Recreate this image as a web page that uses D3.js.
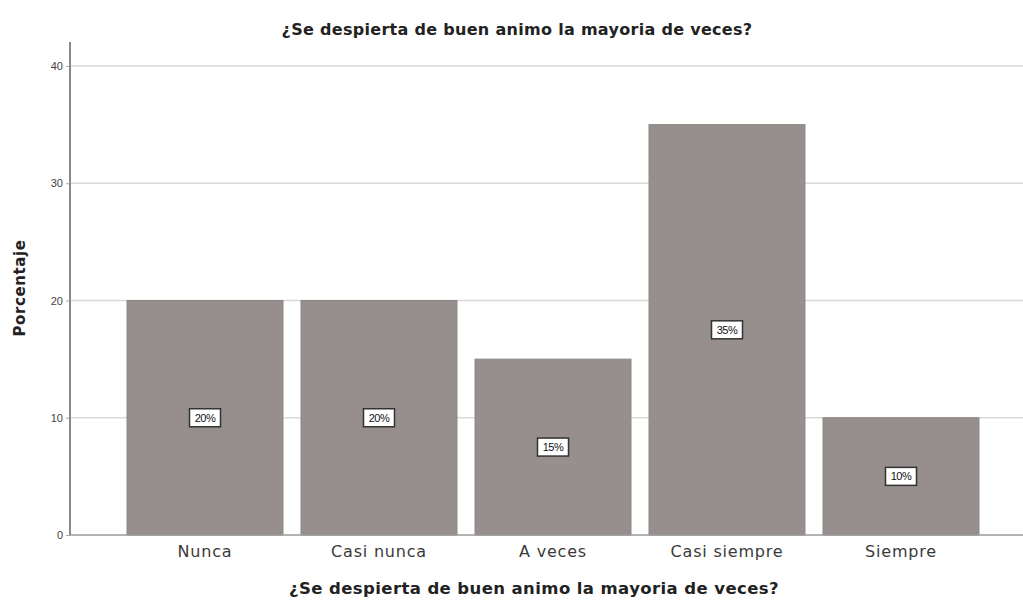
<!DOCTYPE html>
<html>
<head>
<meta charset="utf-8">
<script src="https://cdn.jsdelivr.net/npm/d3@7"></script>
<style>
  html, body { margin: 0; padding: 0; background: #fff; }
  svg { display: block; }
</style>
</head>
<body>
<svg id="chart" width="1023" height="605"></svg>
<script>
// Survey answers and their share of respondents (%)
const categories = ["Nunca", "Casi nunca", "A veces", "Casi siempre", "Siempre"];
const percentages = [20, 20, 15, 35, 10];
const yTicks = [0, 10, 20, 30, 40];
const chartTitle = "¿Se despierta de buen animo la mayoria de veces?";
const xTitle = "¿Se despierta de buen animo la mayoria de veces?";
const yTitle = "Porcentaje";

const svg = d3.select("#chart");
const plotLeft = 70, plotRight = 1023, plotTop = 42, plotBottom = 535;
const sans = "'DejaVu Sans', Verdana, sans-serif";
const arial = "Arial, 'Liberation Sans', sans-serif";

const y = d3.scaleLinear().domain([0, 40]).range([plotBottom, 66]);
const x = d3.scaleBand()
  .domain(categories)
  .range([118, 988])
  .paddingInner(18 / 174)
  .paddingOuter(9 / 174);

// Horizontal grid lines
svg.append("g")
  .selectAll("line")
  .data(yTicks.filter(d => d > 0))
  .join("line")
  .attr("x1", plotLeft).attr("x2", plotRight)
  .attr("y1", d => y(d)).attr("y2", d => y(d))
  .attr("stroke", "#d9d9d9")
  .attr("stroke-width", 1.5);

// Bars
svg.append("g")
  .selectAll("rect")
  .data(categories)
  .join("rect")
  .attr("x", d => x(d))
  .attr("width", x.bandwidth())
  .attr("y", (d, i) => y(percentages[i]))
  .attr("height", (d, i) => y(0) - y(percentages[i]))
  .attr("fill", "#968f8e")
  .attr("stroke", "#8e8887")
  .attr("stroke-width", 1);

// Baseline
svg.append("line")
  .attr("x1", plotLeft).attr("x2", plotRight)
  .attr("y1", plotBottom).attr("y2", plotBottom)
  .attr("stroke", "#9a9a9a").attr("stroke-width", 1.5);

// Y axis
const yAxis = d3.axisLeft(y).tickValues(yTicks).tickSize(4).tickPadding(3);
const gy = svg.append("g")
  .attr("transform", `translate(${plotLeft},0)`)
  .call(yAxis);
gy.select(".domain").remove();
gy.append("line")
  .attr("x1", 0).attr("x2", 0)
  .attr("y1", plotTop).attr("y2", plotBottom)
  .attr("stroke", "#8a8a8a").attr("stroke-width", 2);
gy.selectAll(".tick line").attr("stroke", "#aaa");
gy.selectAll(".tick text")
  .attr("font-family", arial)
  .attr("font-size", 11)
  .attr("fill", "#444");

// X axis labels
const xAxis = d3.axisBottom(x).tickSize(0).tickPadding(11);
const gx = svg.append("g")
  .attr("transform", `translate(0,${plotBottom})`)
  .call(xAxis);
gx.select(".domain").remove();
gx.selectAll(".tick text")
  .attr("font-family", sans)
  .attr("font-size", 16)
  .attr("letter-spacing", 0.8)
  .attr("fill", "#3a3a3a");

// Value labels in boxes at half bar height
const labels = svg.append("g")
  .selectAll("g")
  .data(categories)
  .join("g")
  .attr("transform", (d, i) => `translate(${x(d) + x.bandwidth() / 2},${y(percentages[i] / 2)})`);
labels.each(function (d, i) {
  const g = d3.select(this);
  g.append("rect")
    .attr("x", -15.5).attr("y", -9)
    .attr("width", 31).attr("height", 18)
    .attr("fill", "#fff")
    .attr("stroke", "#333")
    .attr("stroke-width", 1.5);
  g.append("text")
    .attr("text-anchor", "middle")
    .attr("dy", "0.35em")
    .attr("font-family", arial)
    .attr("font-size", 11)
    .attr("letter-spacing", -0.5)
    .attr("fill", "#111")
    .text(percentages[i] + "%");
});

// Titles
svg.append("text")
  .attr("x", 517).attr("y", 35)
  .attr("text-anchor", "middle")
  .attr("font-family", sans)
  .attr("font-weight", "bold")
  .attr("font-size", 16)
  .attr("letter-spacing", 0.3)
  .attr("fill", "#222")
  .text(chartTitle);

svg.append("text")
  .attr("x", 534).attr("y", 594)
  .attr("text-anchor", "middle")
  .attr("font-family", sans)
  .attr("font-weight", "bold")
  .attr("font-size", 16.5)
  .attr("letter-spacing", 0.4)
  .attr("fill", "#222")
  .text(xTitle);

svg.append("text")
  .attr("transform", "translate(25,288) rotate(-90)")
  .attr("text-anchor", "middle")
  .attr("font-family", sans)
  .attr("font-weight", "bold")
  .attr("font-size", 15)
  .attr("letter-spacing", 0.6)
  .attr("fill", "#222")
  .text(yTitle);
</script>
</body>
</html>
